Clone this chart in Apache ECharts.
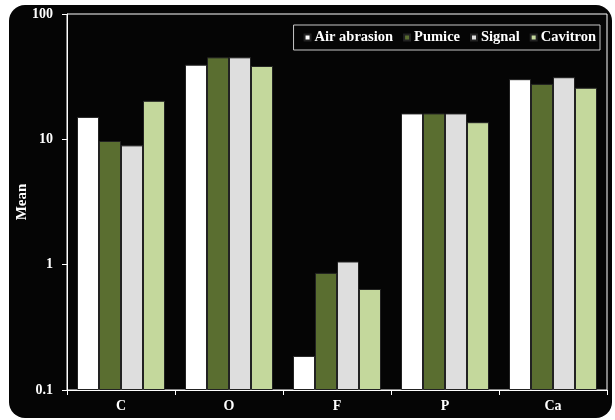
<!DOCTYPE html>
<html><head><meta charset="utf-8">
<script src="https://cdn.jsdelivr.net/npm/echarts@6/dist/echarts.min.js"></script>
<style>html,body{margin:0;padding:0;background:#fff;}#c{width:615px;height:420px;}</style>
</head><body><div id="c"></div>
<script>
const categories = ['C', 'O', 'F', 'P', 'Ca'];
const seriesNames = ['Air abrasion', 'Pumice', 'Signal', 'Cavitron'];
const airAbrasion = [15.1, 39.4, 0.187, 16.1, 30.2];
const pumice = [9.7, 45.1, 0.86, 16.1, 27.7];
const signal = [8.95, 45.1, 1.06, 16.1, 31.3];
const cavitron = [20.3, 38.5, 0.64, 13.7, 25.8];
const colors = ['#ffffff', '#5a6e30', '#dedede', '#c4d89c'];
const values = [airAbrasion, pumice, signal, cavitron];
const font = 'Liberation Serif';

const chart = echarts.init(document.getElementById('c'), null, {renderer: 'canvas'});
chart.setOption({
  backgroundColor: '#fff',
  animation: false,
  graphic: [{
    type: 'rect', z: -10, silent: true,
    shape: {x: 9, y: 5, width: 603, height: 413, r: 16},
    style: {fill: '#050505'}
  }],
  grid: {left: 67, right: 8, top: 14, bottom: 30, show: true, borderColor: '#fff', borderWidth: 1, backgroundColor: 'transparent'},
  legend: {
    top: 25, right: 15,
    data: seriesNames,
    icon: 'rect', itemWidth: 6, itemHeight: 6, itemGap: 10,
    borderColor: '#c8c8c8', borderWidth: 1,
    padding: [5, 4, 5, 10],
    textStyle: {color: '#fff', fontFamily: font, fontWeight: 'bold', fontSize: 14.5, padding: [0, 0, 0, -1]}
  },
  xAxis: {
    type: 'category', data: categories,
    axisLine: {lineStyle: {color: '#fff', width: 1}},
    axisTick: {show: true, length: 5, lineStyle: {color: '#fff'}},
    axisLabel: {color: '#fff', fontFamily: font, fontWeight: 'bold', fontSize: 14, margin: 9}
  },
  yAxis: {
    type: 'log', logBase: 10, min: 0.1, max: 100, startValue: 0.1,
    name: 'Mean', nameLocation: 'middle', nameGap: 37, nameMoveOverlap: false,
    nameTextStyle: {color: '#fff', fontFamily: font, fontWeight: 'bold', fontSize: 15},
    axisLine: {show: true, lineStyle: {color: '#fff', width: 1}},
    axisTick: {show: true, length: 5, lineStyle: {color: '#fff'}},
    splitLine: {show: false},
    axisLabel: {color: '#fff', fontFamily: font, fontWeight: 'bold', fontSize: 14, margin: 14,
      formatter: v => String(v)}
  },
  series: seriesNames.map((n, i) => ({
    name: n, type: 'bar', data: values[i],
    barWidth: 22, barGap: '0%',
    itemStyle: {color: colors[i], borderColor: '#222', borderWidth: 1}
  }))
});
</script></body></html>
